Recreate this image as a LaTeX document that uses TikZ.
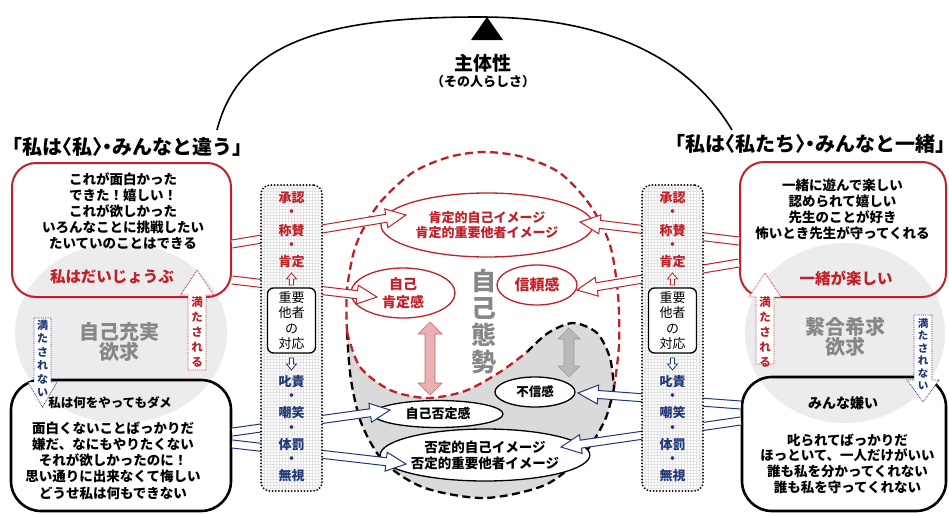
\documentclass[tikz,border=0pt]{standalone}
\usepackage{fontspec}
\setmainfont{Noto Sans CJK JP}
\usetikzlibrary{calc,shapes.geometric}
\definecolor{myred}{RGB}{192,32,42}
\definecolor{myblue}{RGB}{32,56,120}
\definecolor{softgray}{RGB}{236,236,236}
\definecolor{centgray}{RGB}{218,218,218}
\definecolor{labgray}{RGB}{135,135,135}
\newcommand\harrow[3]{%
  \coordinate (hb) at ($(#3)!20pt!(#2)$);
  \filldraw[draw=#1, fill=white, line width=1pt, line join=miter]
    ($(#2)!4pt!90:(#3)$) -- ($(hb)!4pt!90:(#3)$) -- ($(hb)!9.5pt!90:(#3)$) -- (#3)
    -- ($(hb)!9.5pt!-90:(#3)$) -- ($(hb)!4pt!-90:(#3)$) -- ($(#2)!4pt!-90:(#3)$);}
\begin{document}
\begin{tikzpicture}[x=1pt,y=-1pt,
  body/.style={font=\bfseries\fontsize{13.5}{15.8}\selectfont, align=center, inner sep=0},
  head/.style={font=\bfseries\fontsize{15.5}{17}\selectfont, inner sep=0},
  titletext/.style={font=\bfseries\fontsize{20}{22}\selectfont\addfontfeature{RawFeature=+halt}, inner sep=0},
  redbox/.style={draw=myred, line width=2pt, rounded corners=24pt, inner sep=0},
  blkbox/.style={draw=black, line width=2.6pt, rounded corners=30pt, inner sep=0},
  glab/.style={font=\bfseries\fontsize{20}{20}\selectfont, text=labgray, align=center, inner sep=0},
  colbox/.style={draw=black, fill=white, line width=2pt, dash pattern=on 0pt off 3.2pt, line cap=round,
     rounded corners=9pt, minimum width=61pt, minimum height=306pt, inner sep=0,
     path picture={\draw[gray!22, solid, line width=0.3pt, step=3pt] (path picture bounding box.south west) grid (path picture bounding box.north east);}},
  ctext/.style={font=\bfseries\fontsize{13}{15}\selectfont, inner sep=0},
  taibox/.style={draw=black, fill=white, line width=1.3pt, rounded corners=6pt, minimum width=48pt, minimum height=65pt,
     align=center, font=\fontsize{13}{15.5}\selectfont, inner sep=0},
  ell/.style={ellipse, inner sep=0, align=center, line width=1.3pt},
  reddash/.style={draw=myred, line width=2.3pt, dash pattern=on 8pt off 4.5pt},
  blkdash/.style={draw=black, line width=2.3pt, dash pattern=on 8pt off 4.5pt},
  vtext/.style={font=\bfseries\fontsize{11.5}{15}\selectfont, align=center, inner sep=0},
  vblock/.style={fill=white, line width=0.8pt, densely dotted}
]
\useasboundingbox (0,0) rectangle (949,514);
% gray need circles
\fill[softgray] (121,333) ellipse [x radius=106, y radius=90];
\fill[softgray] (845,333) ellipse [x radius=100, y radius=90];
% boxes
\node[redbox, minimum width=219, minimum height=134] (LT) at (121.5,230) {};
\node[blkbox, minimum width=220, minimum height=131] (LB) at (121,445.5) {};
\node[redbox, minimum width=206, minimum height=135] (RT) at (843,229.5) {};
\node[blkbox, minimum width=204, minimum height=134] (RB) at (844,444) {};
\node[glab] (LG) at (119,342) {自己充実\\欲求};
\node[glab] (RG) at (845,337) {繋合希求\\欲求};
\node[body] (LTt) at (123,211) {これが面白かった\\できた！嬉しい！\\これが欲しかった\\いろんなことに挑戦したい\\たいていのことはできる};
\node[head, text=myred] (LTh) at (112,277) {私はだいじょうぶ};
\node[font=\bfseries\fontsize{12.5}{14}\selectfont, inner sep=0] (LBh) at (110,403) {私は何をやってもダメ};
\node[body, font=\bfseries\fontsize{13.5}{16.2}\selectfont] (LBt) at (113,460.5) {面白くないことばっかりだ\\嫌だ、なにもやりたくない\\それが欲しかったのに！\\思い通りに出来なくて悔しい\\どうせ私は何もできない};
\node[body, font=\bfseries\fontsize{13.5}{16}\selectfont] (RTt) at (842.5,209) {一緒に遊んで楽しい\\認められて嬉しい\\先生のことが好き\\怖いとき先生が守ってくれる};
\node[head, text=myred] (RTh) at (846,278) {一緒が楽しい};
\node[font=\bfseries\fontsize{14}{16}\selectfont, inner sep=0] (RBh) at (843,403) {みんな嫌い};
\node[body, font=\bfseries\fontsize{13.5}{15.7}\selectfont] (RBt) at (847.5,463.5) {叱られてばっかりだ\\ほっといて、一人だけがいい\\誰も私を分かってくれない\\誰も私を守ってくれない};
% titles and arc
\node[titletext, anchor=west] (TL) at (12,146.5) {「私は〈私〉・みんなと違う」};
\node[titletext, anchor=east] (TR2) at (945.5,144) {「私は〈私たち〉・みんなと一緒」};
\coordinate (arcL) at (217,130);
\coordinate (arcT) at (480,17);
\coordinate (arcR) at (732,130);
\draw[line width=1.6pt] (arcL) .. controls (240,40) and (330,17) .. (arcT) .. controls (610,17) and (690,60) .. (arcR);
\fill (487,17) -- (503,40) -- (471,40) -- cycle;
\node[font=\bfseries\fontsize{19}{21}\selectfont, inner sep=0] (top) at (483,63) {主体性};
\node[font=\bfseries\fontsize{13}{15}\selectfont, inner sep=0] (topsub) at (483,82) {（その人らしさ）};
% centre region
\fill[centgray] plot[smooth] coordinates {(347,332) (360,367) (390,390) (427,398) (465,391) (500,372) (527,352)}
  -- plot[smooth] coordinates {(527,352) (548,333) (573,323) (597,333) (610,358) (614,388)}
  -- plot[smooth] coordinates {(614,388) (605,420) (583,455) (545,485) (485,498) (425,488) (385,463) (362,425) (351,380) (347,332)} -- cycle;
\draw[reddash] plot[smooth] coordinates {(347,332) (347,290) (356,245) (378,205) (412,173) (449,157) (485,152) (523,157) (560,173) (590,205) (610,245) (618,295) (619,345) (614,388)};
\draw[blkdash] plot[smooth] coordinates {(347,332) (351,380) (362,425) (385,463) (425,488) (485,498) (545,485) (583,455) (605,420) (614,388)};
\draw[reddash] plot[smooth] coordinates {(347,332) (360,367) (390,390) (427,398) (465,391) (500,372) (527,352)};
\draw[blkdash] plot[smooth] coordinates {(527,352) (548,333) (573,323) (597,333) (610,358) (614,388)};
\node[font=\bfseries\fontsize{25}{27}\selectfont, text=labgray, align=center, inner sep=0] (JT) at (484,322) {自\\己\\態\\勢};
\filldraw[draw=myred!70, fill=myred!35, line width=0.6pt] (430,322) -- (442,334) -- (435,334) -- (435,383) -- (442,383) -- (430,395) -- (418,383) -- (425,383) -- (425,334) -- (418,334) -- cycle;
\filldraw[draw=gray!80, fill=gray!55, line width=0.6pt] (569,328) -- (580,339) -- (574,339) -- (574,366) -- (580,366) -- (569,377) -- (558,366) -- (564,366) -- (564,339) -- (558,339) -- cycle;
% centre ellipses
\node[ell, draw=myred, text=myred, minimum width=212, minimum height=64, font=\bfseries\fontsize{13}{15}\selectfont] (PI) at (487,225) {肯定的自己イメージ\\肯定的重要他者イメージ};
\node[ell, draw=myred, text=myred, minimum width=104, minimum height=50, font=\bfseries\fontsize{14}{18}\selectfont] (SA) at (403,293) {自己\\肯定感};
\node[ell, draw=myred, text=myred, minimum width=80, minimum height=40, font=\bfseries\fontsize{15}{17}\selectfont] (TR) at (537,285) {信頼感};
\node[ell, draw=black, fill=white, minimum width=80, minimum height=30, font=\bfseries\fontsize{12.5}{14}\selectfont] (DT) at (535,392) {不信感};
\node[ell, draw=black, fill=white, minimum width=130, minimum height=27, font=\bfseries\fontsize{13}{15}\selectfont] (SN) at (438,414) {自己否定感};
\node[ell, draw=black, fill=white, minimum width=172, minimum height=52, font=\bfseries\fontsize{13.5}{16}\selectfont] (NI) at (485,455) {否定的自己イメージ\\否定的重要他者イメージ};
% hollow arrows
\coordinate (s1) at ($(LT.east)+(0,14)$);   \coordinate (e1) at ($(PI.center)+(-81,-10)$);
\coordinate (s2) at ($(LT.east)+(0,50)$);   \coordinate (e2) at ($(SA.center)+(-26,4)$);
\coordinate (s3) at ($(RT.west)+(0,11.5)$); \coordinate (e3) at ($(PI.center)+(93,-3)$);
\coordinate (s4) at ($(RT.west)+(0,33.5)$); \coordinate (e4) at ($(TR.center)+(40,5)$);
\coordinate (s5) at ($(LB.east)+(0,-13.5)$); \coordinate (e5) at ($(SN.center)+(-48,-4)$);
\coordinate (s6) at ($(LB.east)+(0,-1.5)$); \coordinate (e6) at ($(NI.center)+(-79,9)$);
\coordinate (s7) at ($(RB.west)+(0,-39)$);  \coordinate (e7) at ($(DT.center)+(43,1)$);
\coordinate (s8) at ($(RB.west)+(0,-23)$);  \coordinate (e8) at ($(NI.center)+(76,-8)$);
\harrow{myred}{s1}{e1}
\harrow{myred}{s2}{e2}
\harrow{myred}{s3}{e3}
\harrow{myred}{s4}{e4}
\harrow{myblue}{s5}{e5}
\harrow{myblue}{s6}{e6}
\harrow{myblue}{s7}{e7}
\harrow{myblue}{s8}{e8}
% columns
\node[colbox] (LC) at (291.5,338) {};
\node[colbox] (RC) at (672.5,338) {};
\foreach \cx/\p in {291.5/L,672.5/R}{
  \node[ctext, text=myred] (\p-ra) at (\cx,198) {承認};
  \node[ctext, text=myred] (\p-rb) at (\cx,213) {・};
  \node[ctext, text=myred] (\p-rc) at (\cx,231) {称賛};
  \node[ctext, text=myred] (\p-rd) at (\cx,246) {・};
  \node[ctext, text=myred] (\p-re) at (\cx,262) {肯定};
  \filldraw[draw=myred, fill=white, line width=0.8pt] (\cx,273) -- ++(5,6) -- ++(-3,0) -- ++(0,6) -- ++(-4,0) -- ++(0,-6) -- ++(-3,0) -- cycle;
  \node[taibox] (\p-box) at (\cx,320.5) {重要\\他者\\の\\対応};
  \filldraw[draw=myblue, fill=white, line width=0.8pt] (\cx,370) -- ++(5,-6) -- ++(-3,0) -- ++(0,-6) -- ++(-4,0) -- ++(0,6) -- ++(-3,0) -- cycle;
  \node[ctext, text=myblue] (\p-ba) at (\cx,382) {叱責};
  \node[ctext, text=myblue] (\p-bb) at (\cx,397) {・};
  \node[ctext, text=myblue] (\p-bc) at (\cx,413) {嘲笑};
  \node[ctext, text=myblue] (\p-bd) at (\cx,429) {・};
  \node[ctext, text=myblue] (\p-be) at (\cx,445) {体罰};
  \node[ctext, text=myblue] (\p-bf) at (\cx,460) {・};
  \node[ctext, text=myblue] (\p-bg) at (\cx,476) {無視};
}
% vertical block arrows
\filldraw[vblock, draw=myred] (197,270) -- (213.5,295) -- (206,295) -- (206,370) -- (188,370) -- (188,295) -- (180.5,295) -- cycle;
\node[vtext, text=myred] (LU) at (197,332) {満\\た\\さ\\れ\\る};
\filldraw[vblock, draw=myblue] (34,318) -- (51,318) -- (51,382) -- (57,382) -- (42.5,407) -- (28,382) -- (34,382) -- cycle;
\node[vtext, text=myblue, font=\bfseries\fontsize{11}{13.5}\selectfont] (LD) at (42.5,358.5) {満\\た\\さ\\れ\\な\\い};
\filldraw[vblock, draw=myred] (765,273) -- (781,297) -- (774,297) -- (774,364) -- (756,364) -- (756,297) -- (749,297) -- cycle;
\node[vtext, text=myred] (RU) at (765,332) {満\\た\\さ\\れ\\る};
\filldraw[vblock, draw=myblue] (914,315) -- (932,315) -- (932,380) -- (939,380) -- (923,402) -- (907,380) -- (914,380) -- cycle;
\node[vtext, text=myblue, font=\bfseries\fontsize{10.5}{12.5}\selectfont] (RD) at (923,354) {満\\た\\さ\\れ\\な\\い};
\end{tikzpicture}
\end{document}
